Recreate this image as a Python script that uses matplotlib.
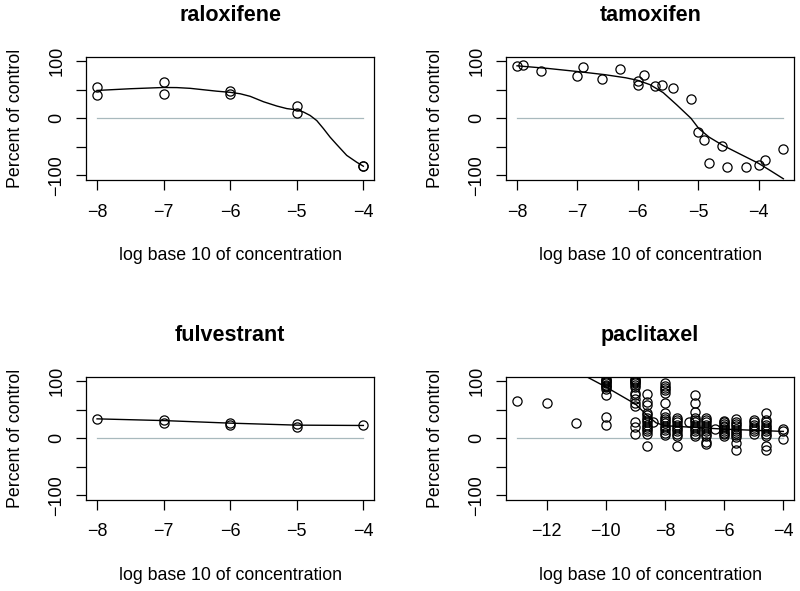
# Dose-response panels: percent of control vs log10 concentration, four drugs
import numpy as np
import matplotlib.pyplot as plt

plt.rcParams['font.family'] = ['Liberation Sans', 'DejaVu Sans']

# raloxifene
ral_x = [-8, -8, -7, -7, -6, -6, -5, -5, -4, -4]
ral_y = [55, 41, 63.5, 42, 47, 42, 21.5, 9, -83.5, -83]
ral_fit_x = [-8, -7.5, -7, -6.8, -6.6, -6.4, -6.2, -6, -5.85, -5.7, -5.5, -5.3, -5.15,
             -5, -4.9, -4.8, -4.7, -4.6, -4.5, -4.4, -4.25, -4.1, -4]
ral_fit_y = [48.8, 51.8, 54, 53.8, 52.5, 50, 47.5, 45.5, 43, 38.5, 29, 21.5, 17,
             14.7, 11, 5, -4, -18, -33, -46, -65, -77, -84]

# tamoxifen
tam_x = [-8, -7.9, -7.6, -7, -6.9, -6.6, -6.3, -6, -6, -5.9, -5.72, -5.6, -5.42,
         -5.12, -5, -4.91, -4.82, -4.61, -4.53, -4.21, -4, -3.89, -3.59]
tam_y = [91, 93, 83.5, 74.7, 89.4, 69.4, 86.5, 65.9, 58.8, 75.9, 56.5, 57.6, 53,
         33.5, -23.5, -38, -79, -48, -85, -85, -82, -73.5, -54.7]
tam_fit_x = [-8, -7.5, -7, -6.55, -6.2, -6, -5.8, -5.58, -5.36, -5.2, -5.12, -4.99,
             -4.82, -4.6, -4.32, -4, -3.8, -3.59]
tam_fit_y = [92, 87.5, 82, 76.5, 71, 66.5, 59, 45, 24, 8, 0, -18,
             -33, -47, -62, -79, -92, -106]

# fulvestrant
ful_x = [-8, -7, -7, -6, -6, -5, -5, -4]
ful_y = [33.5, 32, 26, 27.6, 24, 24.7, 20.6, 22.4]
ful_fit_x = [-8, -7, -6, -5, -4]
ful_fit_y = [34, 31, 26.5, 23, 22.4]

# paclitaxel (responses grouped by concentration)
pac_conc = [-13, -12, -11, -10, -9, -8.6, -8.4, -8, -7.6, -7.2, -7, -6.6, -6.3,
            -6, -5.6, -5, -4.6, -4]
pac_resp = [
    [66],
    [61],
    [26],
    [104, 102, 100, 98, 96, 94, 92, 90, 87, 75, 38, 23],
    [104, 102, 100, 98, 96, 93, 90, 80, 75, 68, 62, 57, 28, 20, 8],
    [78, 63, 58, 44, 40, 36, 32, 28, 24, 20, 16, 12, 8, -14],
    [29],
    [96, 92, 88, 84, 80, 62, 45, 38, 34, 30, 26, 22, 18, 14, 10, 6],
    [36, 32, 28, 24, 20, 16, 12, 8, 4, -14],
    [29],
    [76, 62, 46, 36, 32, 28, 24, 20, 16, 12, 8, 4],
    [36, 32, 28, 24, 20, 16, 12, 8, 4, -6, -10],
    [16],
    [31, 28, 25, 22, 19, 16, 13, 10, 7, 4],
    [33, 29, 25, 21, 17, 13, 9, 5, 2, -8, -20],
    [32, 28, 24, 20, 16, 12, 8],
    [45, 32, 28, 24, 20, 16, 12, 8, 4, -13, -21],
    [17, 12, -1],
]
pac_fit_x = [-10.8, -10, -9.5, -9, -8.6, -8.3, -8, -7, -6, -5, -4]
pac_fit_y = [112, 90, 75, 60, 40, 27, 22, 19, 16, 14, 12]

pac_x = np.concatenate([[c] * len(r) for c, r in zip(pac_conc, pac_resp)])
pac_y = np.concatenate(pac_resp)

panels = [
    ('raloxifene', ral_x, ral_y, ral_fit_x, ral_fit_y, [-8, -7, -6, -5, -4]),
    ('tamoxifen', tam_x, tam_y, tam_fit_x, tam_fit_y, [-8, -7, -6, -5, -4]),
    ('fulvestrant', ful_x, ful_y, ful_fit_x, ful_fit_y, [-8, -7, -6, -5, -4]),
    ('paclitaxel', pac_x, pac_y, pac_fit_x, pac_fit_y, [-12, -10, -8, -6, -4]),
]

fig = plt.figure(figsize=(8, 5.91), dpi=100)
lefts = [0.108, 0.633]
bottoms = [0.6956, 0.1542]

for i, (name, x, y, fx, fy, xt) in enumerate(panels):
    ax = fig.add_axes([lefts[i % 2], bottoms[i // 2], 0.3595, 0.2085])
    x = np.asarray(x, dtype=float)
    y = np.asarray(y, dtype=float)
    lo, hi = x.min(), x.max()
    pad = 0.04 * (hi - lo)
    ax.set_xlim(lo - pad, hi + pad)
    ax.set_ylim(-108, 108)

    ax.plot([lo, hi], [0, 0], color='#a8b9bd', lw=0.9, zorder=1)
    ax.plot(x, y, 'o', mfc='none', mec='black', ms=6.6, mew=0.9, zorder=2)
    ax.plot(fx, fy, color='black', lw=1.0, zorder=3)

    ax.set_xticks(xt)
    ax.set_yticks([-100, -50, 0, 50, 100])
    ax.set_yticklabels(['\u2212100', '', '0', '', '100'], rotation=90, va='center')
    ax.tick_params(direction='out', length=7, width=0.9, labelsize=13)
    ax.tick_params(axis='x', pad=10)
    ax.tick_params(axis='y', pad=8)
    for s in ax.spines.values():
        s.set_linewidth(0.9)

    ax.set_title(name, fontsize=15.5, fontweight='bold', pad=26)
    ax.set_xlabel('log base 10 of concentration', fontsize=12.8, labelpad=19)
    ax.set_ylabel('Percent of control', fontsize=12.8, labelpad=18)

fig.savefig('out.png', dpi=100)
